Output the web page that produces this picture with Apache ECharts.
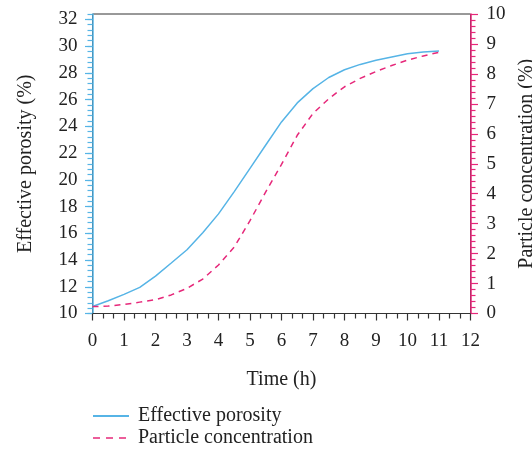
<!DOCTYPE html>
<html>
<head>
<meta charset="utf-8">
<script src="https://cdn.jsdelivr.net/npm/echarts@6/dist/echarts.min.js"></script>
<style>html,body{margin:0;padding:0;background:#fff}#c{width:532px;height:451px}</style>
</head>
<body>
<div id="c"></div>
<script>
// Data
var timeH = [0, 0.5, 1, 1.5, 2, 2.5, 3, 3.5, 4, 4.5, 5, 5.5, 6, 6.5, 7, 7.5, 8, 8.5, 9, 9.5, 10, 10.5, 11];
var effectivePorosity = [10.52, 10.95, 11.43, 11.95, 12.8, 13.78, 14.77, 16.04, 17.45, 19.12, 20.86, 22.6, 24.33, 25.75, 26.82, 27.65, 28.23, 28.63, 28.94, 29.18, 29.42, 29.55, 29.63];
var particleConcentration = [0.23, 0.25, 0.3, 0.38, 0.46, 0.62, 0.84, 1.15, 1.62, 2.22, 3.1, 4.06, 4.98, 5.95, 6.68, 7.17, 7.57, 7.85, 8.08, 8.28, 8.46, 8.6, 8.72];
var leftTickLabels = [10, 12, 14, 16, 18, 20, 22, 24, 26, 28, 30, 32];
var seriesNames = ['Effective porosity', 'Particle concentration'];

var BLUE = '#56b4e6', PINK = '#e6287a', DARK = '#333', TXT = '#222';
var FONT = 'Liberation Serif';

function pairs(xs, ys) { return xs.map(function (x, i) { return [x, ys[i]]; }); }

var chart = echarts.init(document.getElementById('c'), null, {renderer: 'canvas'});
chart.setOption({
  animation: false,
  grid: {left: 92.5, right: 61.5, top: 14, bottom: 137.5, show: true, borderColor: DARK, borderWidth: 1, backgroundColor: 'transparent', containLabel: false, outerBoundsMode: 'none'},
  legend: {
    orient: 'vertical', left: 92, top: 406, padding: 0, itemWidth: 36, itemHeight: 10, itemGap: 2,
    itemStyle: {opacity: 0},
    textStyle: {fontFamily: FONT, fontSize: 20, color: TXT, padding: [0, 0, 0, 4]},
    data: [
      {name: seriesNames[0]},
      {name: seriesNames[1], lineStyle: {type: [7, 6], width: 1.5}}
    ]
  },
  xAxis: {
    type: 'value', min: 0, max: 12, interval: 1,
    name: 'Time (h)', nameLocation: 'middle', nameGap: 56,
    nameTextStyle: {fontFamily: FONT, fontSize: 20, color: TXT},
    axisLine: {lineStyle: {color: DARK, width: 1.2}},
    axisTick: {length: 7, lineStyle: {color: DARK, width: 1.2}},
    minorTick: {show: true, splitNumber: 3, length: 5, lineStyle: {color: DARK, width: 1.2}},
    axisLabel: {margin: 18, fontFamily: FONT, fontSize: 19, color: TXT},
    splitLine: {show: false}
  },
  yAxis: [
    {
      type: 'value', position: 'left', min: 10, max: 32.4, interval: 0.4,
      name: 'Effective porosity (%)', nameLocation: 'middle', nameRotate: 90, nameGap: 57,
      nameTextStyle: {fontFamily: FONT, fontSize: 20, color: TXT},
      axisLine: {show: true, lineStyle: {color: BLUE, width: 1.5}},
      axisTick: {show: true, length: 5, lineStyle: {color: BLUE, width: 1.2}},
      axisLabel: {customValues: leftTickLabels, margin: 15, fontFamily: FONT, fontSize: 19, color: TXT},
      splitLine: {show: false}
    },
    {
      type: 'value', position: 'left', min: 10, max: 32.4,
      axisLine: {show: false},
      axisTick: {show: true, customValues: leftTickLabels, length: 7.5, lineStyle: {color: BLUE, width: 1.2}},
      axisLabel: {show: false},
      splitLine: {show: false}
    },
    {
      type: 'value', position: 'right', min: 0, max: 10, interval: 1,
      name: 'Particle concentration (%)', nameLocation: 'middle', nameRotate: 90, nameGap: 46,
      nameTextStyle: {fontFamily: FONT, fontSize: 20, color: TXT},
      axisLine: {show: true, lineStyle: {color: PINK, width: 1.5}},
      axisTick: {show: true, length: 7.5, lineStyle: {color: PINK, width: 1.2}},
      minorTick: {show: true, splitNumber: 5, length: 5, lineStyle: {color: PINK, width: 1.2}},
      axisLabel: {margin: 16, fontFamily: FONT, fontSize: 19, color: TXT},
      splitLine: {show: false}
    }
  ],
  series: [
    {
      name: seriesNames[0], type: 'line', yAxisIndex: 0, symbol: 'none',
      data: pairs(timeH, effectivePorosity),
      lineStyle: {color: BLUE, width: 1.5}, itemStyle: {color: BLUE}, z: 3
    },
    {
      name: seriesNames[1], type: 'line', yAxisIndex: 2, symbol: 'none',
      data: pairs(timeH, particleConcentration),
      lineStyle: {color: PINK, width: 1.5, type: [6, 5]}, itemStyle: {color: PINK}, z: 3
    }
  ]
});
</script>
</body>
</html>
